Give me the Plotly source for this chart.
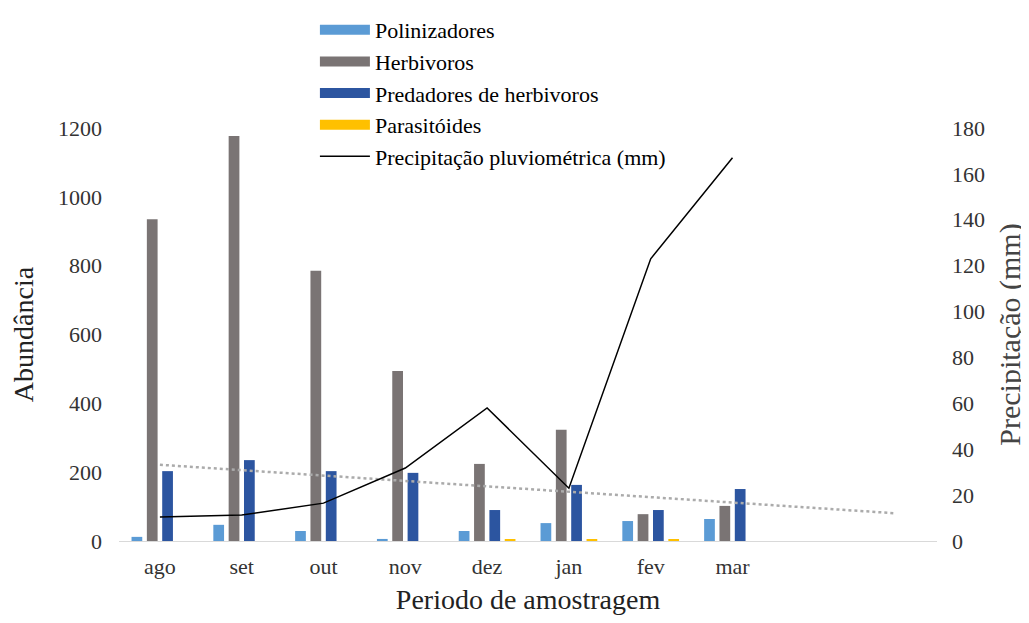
import numpy as np
import plotly.graph_objects as go

months = ["ago", "set", "out", "nov", "dez", "jan", "fev", "mar"]
polinizadores = [12, 47, 29, 6, 29, 52, 58, 64]
herbivoros = [935, 1177, 785, 494, 224, 323, 78, 102]
predadores = [203, 235, 203, 198, 90, 163, 90, 151]
parasitoides = [0, 0, 0, 0, 5, 4, 5, 0]
precipitacao = [10.5, 11.3, 16.5, 31.8, 58, 23, 123, 167]
forecast_periods = 2  # linear trend of predators extended 2 periods forward

FONT = "Liberation Serif"

x = np.arange(len(months))
slope, intercept = np.polyfit(x, predadores, 1)
x_trend = np.arange(len(months) + forecast_periods)
y_trend = slope * x_trend + intercept

fig = go.Figure()
bar_specs = [
    ("Polinizadores", polinizadores, "#5B9BD5"),
    ("Herbivoros", herbivoros, "#7A7474"),
    ("Predadores de herbivoros", predadores, "#2C55A0"),
    ("Parasitóides", parasitoides, "#FFC000"),
]
for name, vals, col in bar_specs:
    fig.add_trace(go.Bar(x=x, y=vals, name=name, legendgroup=name, showlegend=False,
                         marker=dict(color=col, line=dict(width=0))))

fig.add_trace(go.Scatter(x=x_trend, y=y_trend, mode="lines", showlegend=False,
                         line=dict(color="#ABABAB", width=2.5, dash="dot")))
fig.add_trace(go.Scatter(x=x, y=precipitacao, mode="lines", name="Precipitação pluviométrica (mm)",
                         yaxis="y2", line=dict(color="#000000", width=1.5), legendrank=10))

# legend-only entries giving the wide colour swatches of the original legend
for i, (name, vals, col) in enumerate(bar_specs):
    fig.add_trace(go.Scatter(x=[None], y=[None], mode="lines", name=name, legendgroup=name,
                             line=dict(color=col, width=12), legendrank=i + 1))

fig.update_layout(
    width=1021, height=615,
    paper_bgcolor="white", plot_bgcolor="white",
    margin=dict(l=111, r=92, t=120, b=82, autoexpand=False),
    barmode="group", bargap=0.25, bargroupgap=0.3,
    font=dict(family=FONT, color="#333333", size=22),
    showlegend=True,
    legend=dict(x=0.2395, y=1.288, xanchor="left", yanchor="top",
                font=dict(family=FONT, size=22, color="#000000"),
                bgcolor="rgba(0,0,0,0)", tracegroupgap=0, itemwidth=50),
    xaxis=dict(range=[-0.5, len(months) + forecast_periods - 0.5],
               tickmode="array", tickvals=list(x), ticktext=months,
               showgrid=False, zeroline=False, showline=True, linecolor="#D9D9D9", linewidth=1,
               ticks="", ticklabelstandoff=6, automargin=False,
               tickfont=dict(family=FONT, size=22, color="#333333"),
               title=dict(text="Periodo de amostragem", standoff=10,
                          font=dict(family=FONT, size=28, color="#222222"))),
    yaxis=dict(range=[0, 1200], tickvals=[0, 200, 400, 600, 800, 1000, 1200],
               showgrid=False, zeroline=False, showline=False, ticks="",
               ticklabelstandoff=16, automargin=False,
               tickfont=dict(family=FONT, size=22, color="#333333"),
               title=dict(text="Abundância", standoff=20,
                          font=dict(family=FONT, size=28, color="#222222"))),
    yaxis2=dict(range=[0, 180], tickvals=list(range(0, 181, 20)), overlaying="y", side="right",
                showgrid=False, zeroline=False, showline=False, ticks="",
                ticklabelstandoff=14, automargin=False,
                tickfont=dict(family=FONT, size=22, color="#333333"),
                title=dict(text="Precipitação (mm)", standoff=14,
                           font=dict(family=FONT, size=30, color="#444444"))),
)

fig.write_html("out.html")
